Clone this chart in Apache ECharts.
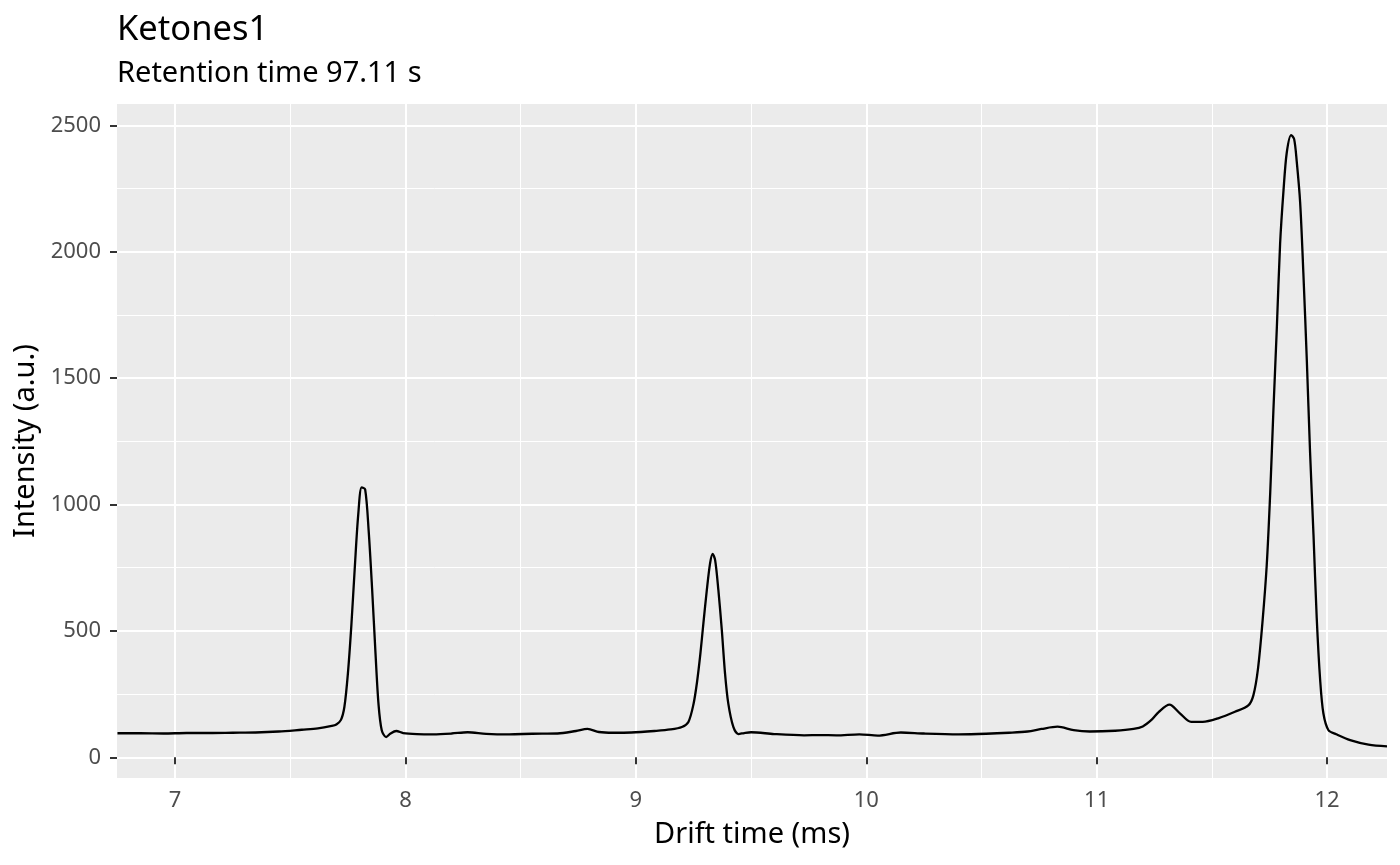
<!DOCTYPE html>
<html>
<head>
<meta charset="utf-8">
<script src="https://cdn.jsdelivr.net/npm/echarts@6/dist/echarts.min.js"></script>
<style>
html,body{margin:0;padding:0;background:#fff;}
#chart{width:1400px;height:865px;}
</style>
</head>
<body>
<div id="chart"></div>
<script>
const titleText = 'Ketones1';
const subtitleText = 'Retention time 97.11 s';
const xName = 'Drift time (ms)';
const yName = 'Intensity (a.u.)';

const xMajorTicks = [7, 8, 9, 10, 11, 12];
const xMinorTicks = [7.5, 8.5, 9.5, 10.5, 11.5];
const yMajorTicks = [0, 500, 1000, 1500, 2000, 2500];
const yMinorTicks = [250, 750, 1250, 1750, 2250];

const driftTime = [
  6.75, 6.85, 6.95, 7.05, 7.15, 7.25, 7.35, 7.45, 7.55, 7.62, 7.68, 7.70, 7.72, 7.735,
  7.75, 7.765, 7.78, 7.795, 7.81, 7.825, 7.84, 7.855, 7.87, 7.883, 7.897, 7.916, 7.935,
  7.96, 7.99, 8.05, 8.12, 8.2, 8.27, 8.35, 8.45, 8.55, 8.66, 8.74, 8.79, 8.84, 8.9, 8.98,
  9.08, 9.15, 9.2, 9.228, 9.25, 9.265, 9.28, 9.293, 9.308, 9.322, 9.333, 9.344, 9.358,
  9.373, 9.387, 9.401, 9.423, 9.445, 9.47, 9.5, 9.6, 9.73, 9.8, 9.87, 9.97, 10.05, 10.15,
  10.25, 10.4, 10.52, 10.62, 10.7, 10.76, 10.83, 10.9, 10.97, 11.08, 11.16, 11.2, 11.24,
  11.27, 11.316, 11.36, 11.41, 11.46, 11.53, 11.6, 11.658, 11.68, 11.70, 11.72, 11.738,
  11.753, 11.767, 11.782, 11.796, 11.811, 11.825, 11.844, 11.857, 11.868, 11.883, 11.897,
  11.912, 11.926, 11.941, 11.955, 11.97, 11.984, 12.006, 12.04, 12.1, 12.18, 12.26
];
const intensity = [
  95, 95, 94, 96, 96, 97, 98, 102, 109, 114, 124, 130, 148, 200,
  330, 520, 750, 960, 1068, 1060, 900, 670, 410, 210, 107, 80, 94,
  104, 96, 92, 91, 94, 99, 93, 91, 93, 94, 104, 112, 100, 97, 98,
  104, 110, 120, 140, 210, 295, 410, 530, 662, 767, 805, 780, 662,
  503, 331, 213, 120, 92, 96, 99, 92, 87, 88, 87, 91, 86, 98,
  94, 91, 93, 97, 102, 112, 121, 107, 102, 105, 112, 122, 150,
  180, 208, 175, 140, 140, 155, 180, 205, 245, 350, 540, 760,
  1044, 1373, 1702, 2031, 2245, 2393, 2462, 2446, 2360, 2196, 1916,
  1571, 1209, 880, 551, 304, 173, 107, 91, 68, 50, 43
];

const xMin = 6.748, xMax = 12.26;
const yMin = -82, yMax = 2585;

const FONT = 'Noto Sans';
const chart = echarts.init(document.getElementById('chart'));

const seriesData = driftTime.map((t, i) => [t, intensity[i]]);

const hidden = {show: false};
const plain = v => String(v);

chart.setOption({
  animation: false,
  backgroundColor: '#ffffff',
  title: [
    {text: titleText, left: 117, top: 13, padding: 0,
     textStyle: {fontFamily: FONT, fontSize: 34.5, fontWeight: 'normal', color: '#000'}},
    {text: subtitleText, left: 117, top: 59, padding: 0,
     textStyle: {fontFamily: FONT, fontSize: 29, fontWeight: 'normal', color: '#000'}}
  ],
  grid: {left: 117, right: 13, top: 104, bottom: 87, show: true,
         backgroundColor: '#EBEBEB', borderWidth: 0, containLabel: false},
  xAxis: [
    {type: 'value', min: xMin, max: xMax, name: xName, nameLocation: 'middle', nameGap: 42,
     nameTextStyle: {fontFamily: FONT, fontSize: 29, color: '#000'},
     axisLine: hidden,
     axisTick: {show: true, customValues: xMajorTicks, length: 7, lineStyle: {color: '#333333', width: 2}},
     axisLabel: {customValues: xMajorTicks, formatter: plain, fontFamily: FONT, fontSize: 22, color: '#4D4D4D', margin: 12},
     splitLine: {show: true, lineStyle: {color: '#ffffff', width: 2}}},
    {type: 'value', min: xMin, max: xMax, position: 'bottom',
     axisLine: hidden,
     axisTick: {show: false, customValues: xMinorTicks},
     axisLabel: {show: false, customValues: xMinorTicks},
     splitLine: {show: true, lineStyle: {color: '#ffffff', width: 1}}}
  ],
  yAxis: [
    {type: 'value', min: yMin, max: yMax, name: yName, nameLocation: 'middle', nameGap: 71,
     nameRotate: 90,
     nameTextStyle: {fontFamily: FONT, fontSize: 29, color: '#000'},
     axisLine: hidden,
     axisTick: {show: true, customValues: yMajorTicks, length: 7, lineStyle: {color: '#333333', width: 2}},
     axisLabel: {customValues: yMajorTicks, formatter: plain, fontFamily: FONT, fontSize: 22, color: '#4D4D4D', margin: 16},
     splitLine: {show: true, lineStyle: {color: '#ffffff', width: 2}}},
    {type: 'value', min: yMin, max: yMax, position: 'left',
     axisLine: hidden,
     axisTick: {show: false, customValues: yMinorTicks},
     axisLabel: {show: false, customValues: yMinorTicks},
     splitLine: {show: true, lineStyle: {color: '#ffffff', width: 1}}}
  ],
  series: [
    {type: 'line', xAxisIndex: 0, yAxisIndex: 0, data: seriesData, showSymbol: false,
     smooth: 0.3, lineStyle: {color: '#000000', width: 2.3}, z: 10}
  ]
});
</script>
</body>
</html>
